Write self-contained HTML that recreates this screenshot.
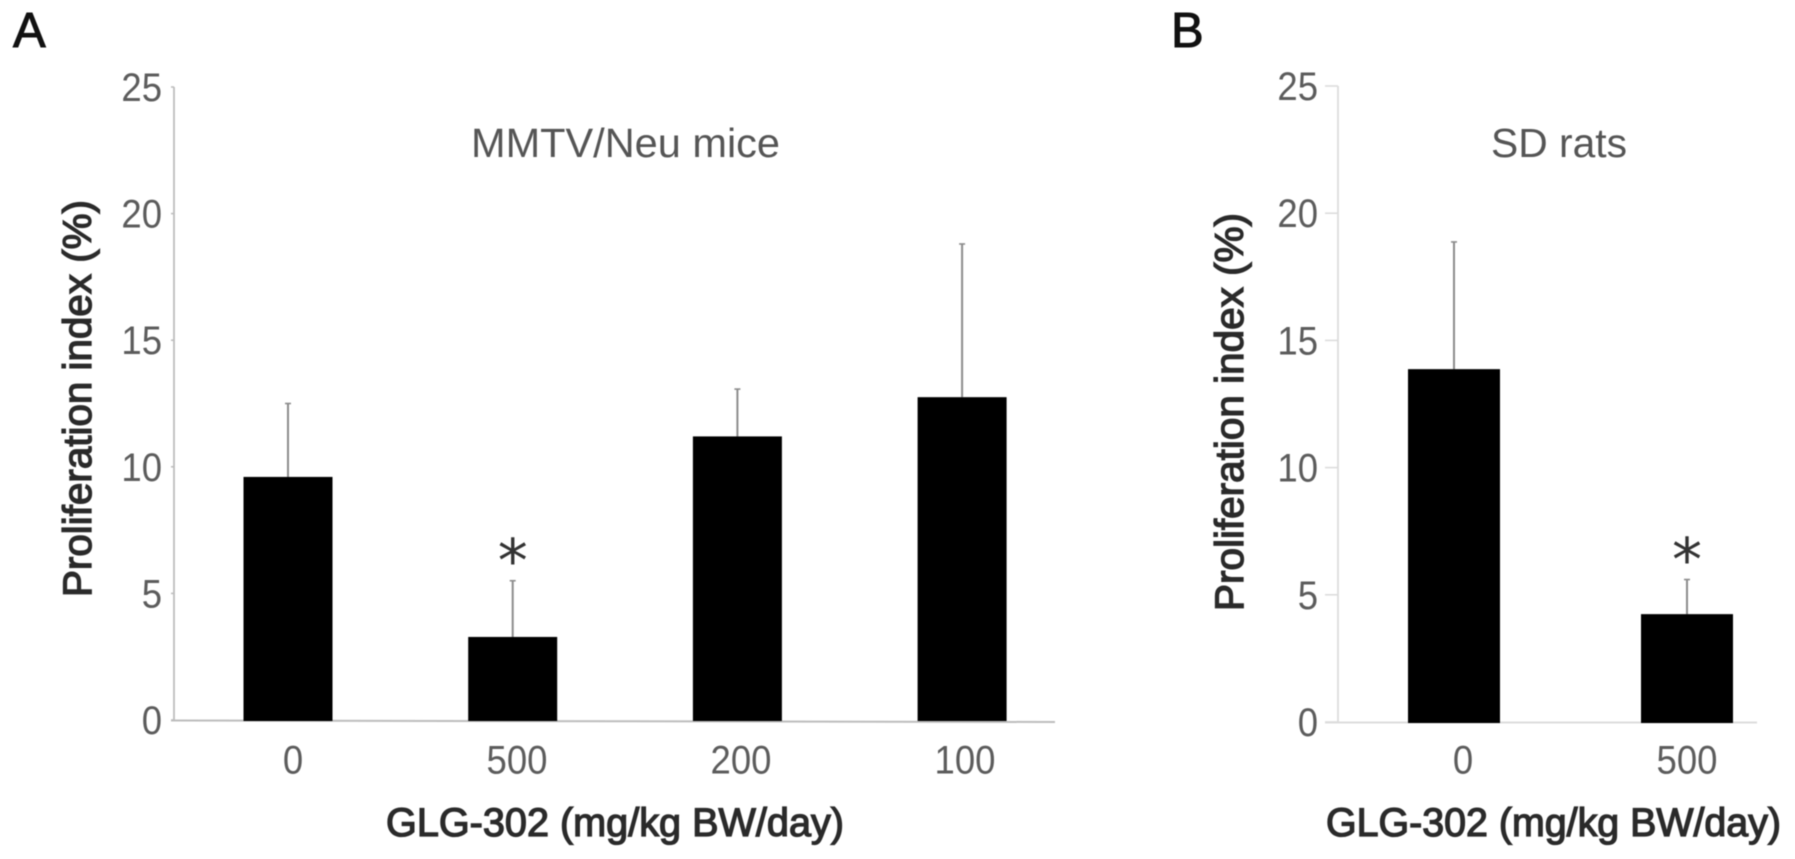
<!DOCTYPE html>
<html lang="en">
<head>
<meta charset="utf-8">
<title>Proliferation index by GLG-302 dose</title>
<style>
  html, body { margin: 0; padding: 0; background: #fff; }
  body { width: 1795px; height: 859px; overflow: hidden; }
  svg { display: block; filter: blur(0.55px); }
  text { font-family: "Liberation Sans", sans-serif; }
  .tick-label { font-size: 40px; fill: #5c5c5c; }
  .panel-title { font-size: 41px; fill: #555; }
  .panel-letter { font-size: 49px; fill: #111; stroke: #111; stroke-width: 1px; }
  .axis-title { font-size: 39.5px; fill: #2a2a2a; stroke: #2a2a2a; stroke-width: 1.3px; }
  .sig-mark { font-family: "DejaVu Sans", sans-serif; font-size: 60px; fill: #333; text-anchor: middle; }
</style>
</head>
<body>
<svg id="figure" xmlns="http://www.w3.org/2000/svg" width="1795" height="859" viewBox="0 0 1795 859">
  <rect width="1795" height="859" fill="#fff"/>

  <text class="panel-letter" x="13" y="47">A</text>
  <text class="panel-letter" x="1171" y="47">B</text>

  <text class="panel-title" x="471" y="157" textLength="309" lengthAdjust="spacingAndGlyphs">MMTV/Neu mice</text>
  <text class="panel-title" x="1491" y="157" textLength="136" lengthAdjust="spacingAndGlyphs">SD rats</text>

  <text class="axis-title" transform="translate(91 597) rotate(-90)" textLength="397" lengthAdjust="spacingAndGlyphs">Proliferation index (%)</text>
  <text class="axis-title" transform="translate(1243 611) rotate(-90)" textLength="398" lengthAdjust="spacingAndGlyphs">Proliferation index (%)</text>

  <text class="axis-title" x="386" y="836" textLength="458" lengthAdjust="spacingAndGlyphs">GLG-302 (mg/kg BW/day)</text>
  <text class="axis-title" x="1326" y="836" textLength="455" lengthAdjust="spacingAndGlyphs">GLG-302 (mg/kg BW/day)</text>

  <g id="panel-a"></g>
  <g id="panel-b"></g>
</svg>

<script>
// Data
const yTickValues = [0, 5, 10, 15, 20, 25];

const panelACategories = ['0', '500', '200', '100'];
const panelAValues = [9.6, 3.28, 11.2, 12.75];
const panelAErrorTops = [12.5, 5.5, 13.07, 18.8];
const panelAMarks = ['', '*', '', ''];

const panelBCategories = ['0', '500'];
const panelBValues = [13.87, 4.24];
const panelBErrorTops = [18.87, 5.6];
const panelBMarks = ['', '*'];

const SVG_NS = 'http://www.w3.org/2000/svg';
const DIGIT_WIDTH = 20.3;

function make(parent, tag, attrs, text) {
  const el = document.createElementNS(SVG_NS, tag);
  for (const key in attrs) el.setAttribute(key, attrs[key]);
  if (text !== undefined) el.textContent = text;
  parent.appendChild(el);
  return el;
}

function drawPanel(host, data, layout) {
  const yScale = v => layout.yZero - v * layout.pxPerUnit;
  const barCenter = i => layout.barStart + i * layout.barStep;
  const labelCenter = i => layout.labelStart + i * layout.labelStep;

  // y axis line
  const yAxis = make(host, 'line', {
    x1: layout.axisX, x2: layout.axisX, y1: yScale(25), y2: yScale(0),
    stroke: layout.axisColor, 'stroke-width': 1.8
  });
  
  

  // x axis line
  const xAxis = make(host, 'line', {
    x1: layout.axisX - layout.tickLen, x2: layout.axisEnd,
    y1: yScale(0) + 0.5, y2: yScale(0) + layout.axisTilt,
    stroke: layout.axisColor, 'stroke-width': 2
  });
  
  

  // y ticks and labels
  yTickValues.forEach(v => {
    const tick = make(host, 'line', {
      x1: layout.axisX - layout.tickLen, x2: layout.axisX,
      y1: yScale(v), y2: yScale(v),
      stroke: layout.axisColor, 'stroke-width': 1.6
    });
    
    

    const text = String(v);
    const label = make(host, 'text', {
      class: 'tick-label', x: layout.yLabelRight - text.length * DIGIT_WIDTH, y: yScale(v) + 14,
      textLength: text.length * DIGIT_WIDTH, lengthAdjust: 'spacingAndGlyphs'
    }, text);
    
    
  });

  // bars, error bars, significance marks and category labels
  data.categories.forEach((cat, i) => {
    const cx = barCenter(i);

    const err = make(host, 'line', {
      x1: cx, x2: cx, y1: yScale(data.errors[i]), y2: yScale(data.values[i]),
      stroke: '#8c8c8c', 'stroke-width': 2
    });
    
    

    const cap = make(host, 'line', {
      x1: cx - 3, x2: cx + 3, y1: yScale(data.errors[i]), y2: yScale(data.errors[i]),
      stroke: '#8c8c8c', 'stroke-width': 1.6
    });
    
    

    const bar = make(host, 'rect', {
      x: cx - layout.barWidth / 2, y: yScale(data.values[i]),
      width: layout.barWidth, height: yScale(0) - yScale(data.values[i]) + 1,
      fill: '#000'
    });
    
    

    if (data.marks[i]) {
      const mark = make(host, 'text', {
        class: 'sig-mark', x: cx, y: yScale(data.errors[i]) + 1
      }, data.marks[i]);
      
      
    }

    const labelWidth = cat.length * DIGIT_WIDTH;
    const label = make(host, 'text', {
      class: 'tick-label', x: labelCenter(i) - labelWidth / 2, y: 773.5,
      textLength: labelWidth, lengthAdjust: 'spacingAndGlyphs'
    }, cat);
    
    
  });
}

drawPanel(document.getElementById('panel-a'),
  { categories: panelACategories, values: panelAValues, errors: panelAErrorTops, marks: panelAMarks },
  { yZero: 720, pxPerUnit: 25.32, axisX: 174, axisEnd: 1055, axisTilt: 2, tickLen: 3, axisColor: '#bdbdbd',
    yLabelRight: 162, barStart: 288, barStep: 224.7, barWidth: 89, labelStart: 293, labelStep: 224 });

drawPanel(document.getElementById('panel-b'),
  { categories: panelBCategories, values: panelBValues, errors: panelBErrorTops, marks: panelBMarks },
  { yZero: 722, pxPerUnit: 25.44, axisX: 1338, axisEnd: 1757, axisTilt: 0.5, tickLen: 13, axisColor: '#dcdcdc',
    yLabelRight: 1318, barStart: 1454, barStep: 233, barWidth: 92, labelStart: 1463, labelStep: 224 });
</script>
</body>
</html>
